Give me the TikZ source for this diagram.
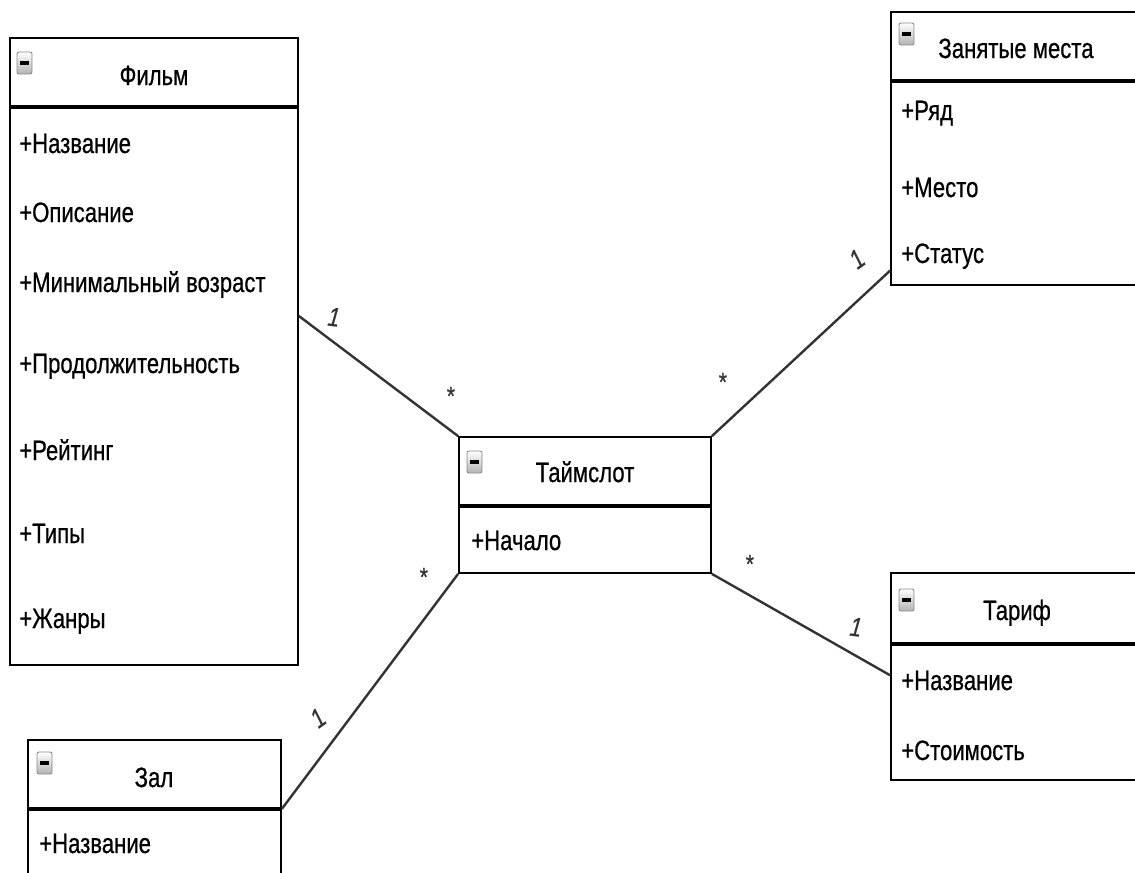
\documentclass[tikz,border=0pt]{standalone}
\usepackage{fontspec}
\setmainfont{Liberation Sans}[FakeStretch=0.79, FakeBold=0.6]
\usetikzlibrary{fit,calc}
\tikzset{
  box/.style={draw=black, line width=1.3pt, fill=white, inner sep=0pt, rectangle},
  divider/.style={draw=black, line width=2.6pt},
  conn/.style={draw=black!80, line width=1.8pt},
  ttl/.style={anchor=base, inner sep=0pt, font=\fontsize{21}{25}\selectfont},
  attr/.style={anchor=base west, inner sep=0pt, font=\fontsize{21}{25}\selectfont},
  mult/.style={inner sep=0pt, font=\fontsize{20}{24}\selectfont\itshape, text=black!80},
  mini/.pic={
    \draw[rounded corners=1.5pt, draw=black!45, top color=white, bottom color=black!30, line width=0.7pt] (0,0) rectangle (15,22);
    \draw[line width=2.6pt] (3,11) -- (12,11);
  }
}
\begin{document}
\begin{tikzpicture}[x=0.75pt,y=-0.75pt]
\useasboundingbox (0,0) rectangle (1135,872);
\clip (0,0) rectangle (1135,872);

% ---- Фильм
\node[box, fit={(10,106) (298,665)}] (film-b) {};
\node[box, fit={(10,38) (298,106)}] (film-h) {};
\draw[divider] (film-h.south west) -- (film-h.south east);
\pic at (17,52) {mini};
\node[ttl] (film-t) at (154,85) {Фильм};
\node[attr] (film-a1) at (19,153) {+Название};
\node[attr] (film-a2) at (19,222) {+Описание};
\node[attr] (film-a3) at (19,292) {+Минимальный возраст};
\node[attr] (film-a4) at (19,373) {+Продолжительность};
\node[attr] (film-a5) at (19,460) {+Рейтинг};
\node[attr] (film-a6) at (19,543) {+Типы};
\node[attr] (film-a7) at (19,628) {+Жанры};

% ---- Таймслот
\node[box, fit={(459,505) (711,573)}] (slot-b) {};
\node[box, fit={(459,437) (711,505)}] (slot-h) {};
\draw[divider] (slot-h.south west) -- (slot-h.south east);
\pic at (467,451) {mini};
\node[ttl] (slot-t) at (585,482) {Таймслот};
\node[attr] (slot-a1) at (471,550) {+Начало};

% ---- Занятые места
\node[box, fit={(891,80) (1141,285)}] (seat-b) {};
\node[box, fit={(891,12) (1141,80)}] (seat-h) {};
\draw[divider] (seat-h.south west) -- (seat-h.south east);
\pic at (899,23) {mini};
\node[ttl] (seat-t) at (1016,58) {Занятые места};
\node[attr] (seat-a1) at (901,120) {+Ряд};
\node[attr] (seat-a2) at (901,197) {+Место};
\node[attr] (seat-a3) at (901,263) {+Статус};

% ---- Тариф
\node[box, fit={(891,643) (1141,780)}] (tarif-b) {};
\node[box, fit={(891,573) (1141,643)}] (tarif-h) {};
\draw[divider] (tarif-h.south west) -- (tarif-h.south east);
\pic at (899,589) {mini};
\node[ttl] (tarif-t) at (1017,620) {Тариф};
\node[attr] (tarif-a1) at (901,690) {+Название};
\node[attr] (tarif-a2) at (901,760) {+Стоимость};

% ---- Зал
\node[box, fit={(28,808) (281,900)}] (hall-b) {};
\node[box, fit={(28,740) (281,808)}] (hall-h) {};
\draw[divider] (hall-h.south west) -- (hall-h.south east);
\pic at (37,752) {mini};
\node[ttl] (hall-t) at (154,787) {Зал};
\node[attr] (hall-a1) at (39,853) {+Название};

% ---- connectors
\coordinate (c-film) at ($(film-b.north east)!0.376!(film-b.south east)$);
\coordinate (c-seat) at ($(seat-b.north west)!0.926!(seat-b.south west)$);
\coordinate (c-tarif) at ($(tarif-b.north west)!0.239!(tarif-b.south west)$);
\draw[conn] (c-film) -- (slot-h.north west);
\draw[conn] (slot-h.north east) -- (c-seat);
\draw[conn] (slot-b.south east) -- (c-tarif);
\draw[conn] (slot-b.south west) -- (hall-h.south east);

% ---- multiplicities
\node[mult, rotate=-7] (m-film1) at (334,317) {1};
\node[mult] (m-film2) at (450,396) {*};
\node[mult] (m-seat1) at (722,382) {*};
\node[mult, rotate=35] (m-seat2) at (857,259) {1};
\node[mult] (m-tarif1) at (749,564) {*};
\node[mult, rotate=-7] (m-tarif2) at (856,627) {1};
\node[mult] (m-hall1) at (423,577) {*};
\node[mult, rotate=35] (m-hall2) at (318,718) {1};
\end{tikzpicture}
\end{document}
